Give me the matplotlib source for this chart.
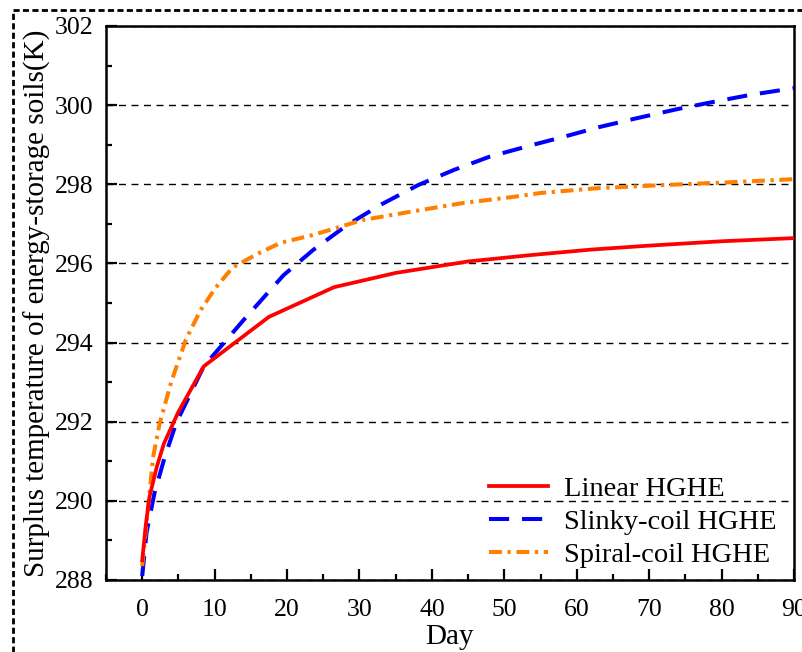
"""
Surplus temperature of energy-storage soils for three horizontal ground
heat exchanger layouts over 90 days of operation.
"""

import matplotlib.pyplot as plt
from matplotlib.patches import Rectangle
from matplotlib.ticker import MultipleLocator

plt.rcParams['font.family'] = ['Liberation Serif', 'DejaVu Serif']
plt.rcParams['mathtext.fontset'] = 'stix'

# Linear HGHE
linear_day = [0, 0.5, 1, 2, 3, 5, 8.5, 17.5, 26.5, 35, 45, 53.6, 62, 70, 80, 90]
linear_temp = [288.5, 289.4, 290.1, 290.85, 291.45, 292.25, 293.4, 294.65,
               295.4, 295.76, 296.05, 296.21, 296.35, 296.45, 296.56, 296.64]

# Slinky-coil HGHE
slinky_day = [0, 0.6, 1.7, 3.1, 4.7, 8.5, 14, 19.5, 23.6, 28.3, 32.9, 38.1,
              43, 48, 53.6, 58.2, 63.2, 68.3, 73.9, 78.8, 84, 90]
slinky_temp = [288.1, 289.2, 290.2, 291.1, 291.97, 293.4, 294.57, 295.7,
               296.34, 296.97, 297.48, 297.98, 298.36, 298.7, 298.98, 299.2,
               299.45, 299.67, 299.9, 300.08, 300.26, 300.43]

# Spiral-coil HGHE
spiral_day = [0, 0.9, 1.5, 2.4, 4, 6, 8, 10.1, 12.5, 16, 19.1, 23.6, 30.5,
              37.5, 44.4, 51.2, 55, 62.8, 71.9, 81.1, 90]
spiral_temp = [288.35, 290.0, 291.1, 291.95, 293.0, 294.06, 294.8, 295.38,
               295.9, 296.25, 296.52, 296.72, 297.1, 297.32, 297.53, 297.68,
               297.78, 297.9, 297.98, 298.05, 298.13]

W, H = 803, 652
fig = plt.figure(figsize=(W / 100, H / 100), dpi=100)
ax = fig.add_axes([106 / W, 1 - 580 / H, (794 - 106) / W, (580 - 26) / H])

ax.plot(linear_day, linear_temp, color='#ff0000', lw=2.7,
        label='Linear HGHE', zorder=4)
ax.plot(slinky_day, slinky_temp, color='#0000ff', lw=2.9,
        dashes=(5.0, 3.2), label='Slinky-coil HGHE', zorder=3)
ax.plot(spiral_day, spiral_temp, color='#ff8000', lw=2.9,
        dashes=(3.2, 1.4, 0.8, 1.4), label='Spiral-coil HGHE', zorder=3)

ax.set_xlim(-5, 90)
ax.set_ylim(288, 302)
ax.xaxis.set_major_locator(MultipleLocator(10))
ax.xaxis.set_minor_locator(MultipleLocator(5))
ax.yaxis.set_major_locator(MultipleLocator(2))
ax.yaxis.set_minor_locator(MultipleLocator(1))

# dashed horizontal guides at the major temperatures
ax.grid(axis='y', which='major', color='black', lw=1.0,
        linestyle=(0, (5, 4)), zorder=1)

ax.tick_params(which='both', direction='in', width=1.6, labelsize=18.5,
               top=False, right=False)
ax.tick_params(which='major', length=8)
ax.tick_params(which='minor', length=4)
ax.tick_params(axis='y', pad=9)
ax.tick_params(axis='x', pad=14)
for sp in ax.spines.values():
    sp.set_linewidth(1.8)

ax.set_xlabel('Day', fontsize=21, labelpad=2)
ax.set_ylabel('Surplus temperature of energy-storage soils(K)', fontsize=21,
              labelpad=3)

ax.legend(loc='lower right', bbox_to_anchor=(1.012, -0.025), frameon=False,
          fontsize=20.5, handlelength=2.1, handletextpad=0.55,
          labelspacing=0.25)

# dashed frame around the whole figure
fig.patches.append(Rectangle((13 / W, -0.2), 1.2, 1.2 - 10 / H,
                             transform=fig.transFigure, fill=False,
                             lw=2.0, linestyle=(0, (2.2, 1.2)), color='black'))

fig.savefig('out.png', dpi=100)
